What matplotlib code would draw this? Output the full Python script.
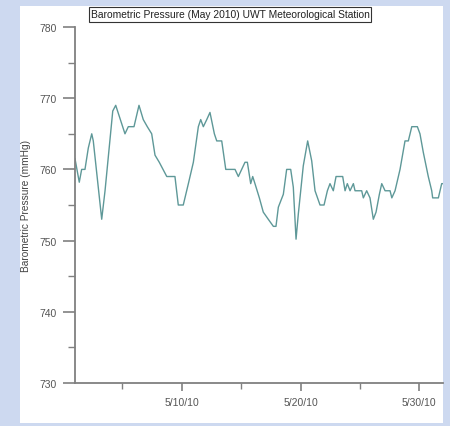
import datetime as dt
import numpy as np
import matplotlib
matplotlib.use("Agg")
import matplotlib.pyplot as plt
import matplotlib.dates as mdates
from matplotlib.patches import Rectangle
from matplotlib.ticker import MultipleLocator, FuncFormatter

plt.rcParams['font.family'] = ['Liberation Sans', 'DejaVu Sans']

# day of May 2010 (1.0 = May 1 00:00) and pressure
days = [1.00, 1.36, 1.56, 1.84, 2.12, 2.41, 2.54, 3.25, 3.53, 4.18, 4.43,
        5.21, 5.49, 5.97, 6.39, 6.75, 7.09, 7.46, 7.74, 8.10, 8.73, 9.42,
        9.70, 10.12, 10.55, 10.97, 11.39, 11.59, 11.81, 12.10, 12.37, 12.74,
        12.94, 13.36, 13.70, 14.48, 14.76, 15.04, 15.32, 15.52, 15.80, 15.97,
        16.16, 16.53, 16.86, 17.28, 17.71, 17.93, 18.13, 18.55, 18.83, 19.17,
        19.39, 19.62, 19.81, 20.23, 20.60, 20.94, 21.22, 21.64, 21.98, 22.26,
        22.48, 22.76, 22.99, 23.55, 23.75, 23.94, 24.17, 24.45, 24.59, 25.15,
        25.29, 25.57, 25.85, 26.13, 26.36, 26.64, 26.84, 27.12, 27.54, 27.69,
        27.96, 28.10, 28.38, 28.80, 29.08, 29.37, 29.84, 30.06, 30.34, 30.76,
        31.05, 31.13, 31.61, 31.89, 32.00]
pressure = [761.5, 758.2, 760, 760, 763, 765, 764, 753, 757, 768.2, 769,
            765, 766, 766, 769, 767, 766, 765, 762, 761, 759, 759,
            755, 755, 758, 761, 766, 767, 766, 767, 768, 765,
            764, 764, 760, 760, 759, 760, 761, 761, 758, 759,
            758, 756, 754, 753, 752, 752, 754.7, 756.5, 760, 760,
            757.5, 750.2, 753.7, 760.5, 764, 761.2, 757, 755, 755, 757,
            758, 757, 759, 759, 757, 758, 757, 758, 757, 757,
            756, 757, 756, 753, 754, 756.5, 758, 757, 757, 756,
            757, 758, 760, 764, 764, 766, 766, 765, 762.4, 759,
            757, 756, 756, 758, 758]

y_ticks = [730, 740, 750, 760, 770, 780]
x_major = ['2010-05-10', '2010-05-20', '2010-05-30']
x_minor = ['2010-05-05', '2010-05-15', '2010-05-25']

start = dt.datetime(2010, 5, 1)
times = [start + dt.timedelta(days=d - 1) for d in days]

fig = plt.figure(figsize=(4.5, 4.27), dpi=100)
fig.patch.set_facecolor('#cdd9f0')
fig.patches.append(Rectangle((20 / 450, 1 - 424 / 427), 423 / 450, 417 / 427,
                             transform=fig.transFigure, facecolor='white',
                             edgecolor='none', zorder=-1))

ax = fig.add_axes([75 / 450, 43 / 427, 368 / 450, 356 / 427])
ax.set_facecolor('none')
ax.plot(times, pressure, color='#5e9898', lw=1.0)

ax.set_xlim(start, dt.datetime(2010, 6, 1))
ax.set_ylim(730, 780)
ax.set_yticks(y_ticks)
ax.yaxis.set_minor_locator(MultipleLocator(5))
ax.set_xticks([mdates.date2num(dt.datetime.fromisoformat(s)) for s in x_major])
ax.set_xticks([mdates.date2num(dt.datetime.fromisoformat(s)) for s in x_minor], minor=True)
ax.xaxis.set_major_formatter(FuncFormatter(
    lambda v, p: "{}/{}/{}".format(mdates.num2date(v).month, mdates.num2date(v).day,
                                   mdates.num2date(v).strftime('%y'))))

for s in ['top', 'right']:
    ax.spines[s].set_visible(False)
for s in ['left', 'bottom']:
    ax.spines[s].set_color('#808080')
    ax.spines[s].set_linewidth(1.3)

ax.tick_params(which='major', length=9, width=1.2, color='#808080',
               labelsize=7.5, labelcolor='#555555', pad=4)
ax.tick_params(which='minor', length=5, width=1.0, color='#808080')
ax.tick_params(axis='x', which='major', length=6)
ax.tick_params(axis='x', which='minor', length=4)

ax.set_ylabel('Barometric Pressure (mmHg)', fontsize=7.3, color='#444444')
ax.yaxis.set_label_coords(-44 / 368, 0.5)

fig.text(230 / 450, 1 - 15.5 / 427,
         'Barometric Pressure (May 2010) UWT Meteorological Station',
         ha='center', va='center', fontsize=7.4, color='#222222',
         bbox=dict(boxstyle='square,pad=0.2', facecolor='white',
                   edgecolor='#333333', lw=0.8))

fig.savefig('out.png', dpi=100)
